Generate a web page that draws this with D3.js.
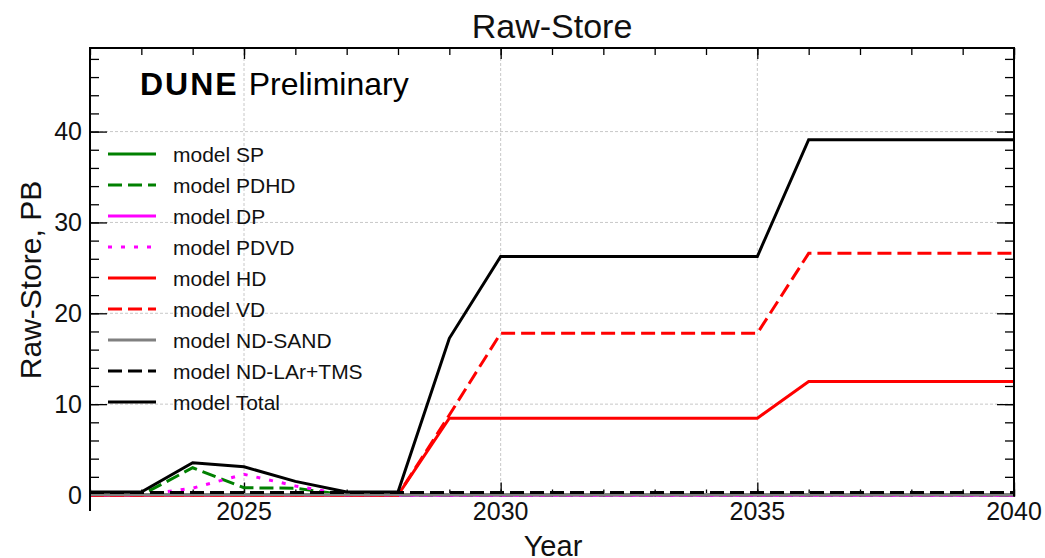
<!DOCTYPE html>
<html>
<head>
<meta charset="utf-8">
<script src="https://cdn.jsdelivr.net/npm/d3@7"></script>
<style>
  body { margin: 0; background: #fff; }
  svg { font-family: "Liberation Sans", Arial, sans-serif; }
</style>
</head>
<body>
<div id="chart"></div>
<script>
// data
var years = [2022,2023,2024,2025,2026,2027,2028,2029,2030,2031,2032,2033,2034,2035,2036,2037,2038,2039,2040];
var sp     = [0,0,0,0,0,0,0,0,0,0,0,0,0,0,0,0,0,0,0];
var pdhd   = [0,0,3.0,0.8,0.74,0,0,0,0,0,0,0,0,0,0,0,0,0,0];
var dp     = [0,0,0,0,0,0,0,0,0,0,0,0,0,0,0,0,0,0,0];
var pdvd   = [0,0,0.75,2.28,1.0,0,0,0,0,0,0,0,0,0,0,0,0,0,0];
var hd     = [0,0,0,0,0,0,0,8.45,8.45,8.45,8.45,8.45,8.45,8.45,12.5,12.5,12.5,12.5,12.5];
var vd     = [0,0,0,0,0,0,0,8.8,17.8,17.8,17.8,17.8,17.8,17.8,26.6,26.6,26.6,26.6,26.6];
var ndSand = [0.05,0.05,0.05,0.05,0.05,0.05,0.05,0.05,0.05,0.05,0.05,0.05,0.05,0.05,0.05,0.05,0.05,0.05,0.05];
var ndLar  = [0.28,0.28,0.28,0.28,0.28,0.28,0.28,0.28,0.28,0.28,0.28,0.28,0.28,0.28,0.28,0.28,0.28,0.28,0.28];
var total  = [0.33,0.33,3.55,3.1,1.5,0.33,0.33,17.25,26.25,26.25,26.25,26.25,26.25,26.25,39.1,39.1,39.1,39.1,39.1];

var seriesNames = ["model SP","model PDHD","model DP","model PDVD","model HD","model VD","model ND-SAND","model ND-LAr+TMS","model Total"];
var seriesValues = [sp, pdhd, dp, pdvd, hd, vd, ndSand, ndLar, total];
var seriesColors = ["#008000","#008000","#ff00ff","#ff00ff","#ff0000","#ff0000","#808080","#000000","#000000"];
var seriesDash = [null,"14,6",null,"4,9",null,"14,6",null,"14,6",null];

var xMajor = [2025, 2030, 2035, 2040];
var yMajor = [0, 10, 20, 30, 40];

// set the dimensions of the frame
var W = 1045, H = 558;
var pLeft = 90, pRight = 1014, pTop = 48, pBottom = 496.5;

var svg = d3.select("#chart").append("svg")
    .attr("width", W)
    .attr("height", H);

var x = d3.scaleLinear().domain([2022, 2040]).range([pLeft, pRight]);
var y = d3.scaleLinear().domain([-0.165, 49.2]).range([pBottom, pTop]);

// grid
svg.append("g").selectAll("line")
  .data(xMajor.filter(function(d) { return d < 2040; }))
  .enter().append("line")
    .attr("x1", function(d) { return x(d); })
    .attr("x2", function(d) { return x(d); })
    .attr("y1", pTop).attr("y2", pBottom)
    .attr("stroke", "#c8c8c8").attr("stroke-width", 1)
    .attr("stroke-dasharray", "3,2");
svg.append("g").selectAll("line")
  .data(yMajor.filter(function(d) { return d > 0; }))
  .enter().append("line")
    .attr("x1", pLeft).attr("x2", pRight)
    .attr("y1", function(d) { return y(d); })
    .attr("y2", function(d) { return y(d); })
    .attr("stroke", "#c8c8c8").attr("stroke-width", 1)
    .attr("stroke-dasharray", "3,2");

// axes (ticks inward)
var xMinor = d3.range(2022, 2041);
var yMinor = d3.range(0, 49, 2);

function tickAxis(axis, tr) {
  var g = svg.append("g").attr("transform", tr).call(axis);
  g.select(".domain").remove();
  g.selectAll("line").attr("stroke", "#000").attr("stroke-width", 1.3);
  g.selectAll("text").remove();
  return g;
}
tickAxis(d3.axisBottom(x).tickValues(xMinor).tickSize(-7), "translate(0," + pBottom + ")");
tickAxis(d3.axisBottom(x).tickValues(xMajor).tickSize(-14), "translate(0," + pBottom + ")");
tickAxis(d3.axisTop(x).tickValues(xMinor).tickSize(-7), "translate(0," + pTop + ")");
tickAxis(d3.axisTop(x).tickValues(xMajor).tickSize(-11), "translate(0," + pTop + ")");
tickAxis(d3.axisLeft(y).tickValues(yMinor).tickSize(-9), "translate(" + pLeft + ",0)");
tickAxis(d3.axisLeft(y).tickValues(yMajor).tickSize(-17), "translate(" + pLeft + ",0)");
tickAxis(d3.axisRight(y).tickValues(yMinor).tickSize(-9), "translate(" + pRight + ",0)");
tickAxis(d3.axisRight(y).tickValues(yMajor).tickSize(-17), "translate(" + pRight + ",0)");

// tick labels
svg.append("g").selectAll("text")
  .data(xMajor)
  .enter().append("text")
    .attr("x", function(d) { return x(d); })
    .attr("y", 520)
    .attr("text-anchor", "middle")
    .style("font-size", "25px")
    .attr("fill", "#111")
    .text(function(d) { return d; });
svg.append("g").selectAll("text")
  .data(yMajor)
  .enter().append("text")
    .attr("x", 82)
    .attr("y", function(d) { return y(d) + 8.5; })
    .attr("text-anchor", "end")
    .style("font-size", "25px")
    .attr("fill", "#111")
    .text(function(d) { return d; });

// lines
var line = d3.line()
  .x(function(d, i) { return x(years[i]); })
  .y(function(d) { return y(d); });

svg.append("g").selectAll("path")
  .data(seriesValues)
  .enter().append("path")
    .attr("d", function(d) { return line(d); })
    .attr("fill", "none")
    .attr("stroke", function(d, i) { return seriesColors[i]; })
    .attr("stroke-width", 3)
    .attr("stroke-dasharray", function(d, i) { return seriesDash[i]; })
    .attr("stroke-linejoin", "miter");

// frame
svg.append("path")
  .attr("d", "M" + pLeft + "," + 511 + "V" + pTop + "H" + pRight + "V" + pBottom)
  .attr("fill", "none")
  .attr("stroke", "#000")
  .attr("stroke-width", 2);

// legend
var leg = svg.append("g").selectAll("g")
  .data(seriesNames)
  .enter().append("g")
    .attr("transform", function(d, i) { return "translate(0," + (154 + i * 31) + ")"; });
leg.append("line")
  .attr("x1", 108).attr("x2", 156)
  .attr("y1", 0).attr("y2", 0)
  .attr("stroke", function(d, i) { return seriesColors[i]; })
  .attr("stroke-width", 3)
  .attr("stroke-dasharray", function(d, i) { return seriesDash[i]; });
leg.append("text")
  .attr("x", 173)
  .attr("y", 7.5)
  .style("font-size", "21px")
  .attr("fill", "#111")
  .text(function(d) { return d; });

// titles
svg.append("text")
  .attr("x", (pLeft + pRight) / 2)
  .attr("y", 38)
  .attr("text-anchor", "middle")
  .style("font-size", "34px")
  .attr("fill", "#111")
  .text("Raw-Store");
svg.append("text")
  .attr("x", 553)
  .attr("y", 556)
  .attr("text-anchor", "middle")
  .style("font-size", "29px")
  .attr("fill", "#111")
  .text("Year");
svg.append("text")
  .attr("transform", "translate(41,280)rotate(-90)")
  .attr("text-anchor", "middle")
  .style("font-size", "30px")
  .attr("fill", "#111")
  .text("Raw-Store, PB");

var dune = svg.append("text")
  .attr("x", 140)
  .attr("y", 95)
  .style("font-size", "32px")
  .attr("fill", "#000");
dune.append("tspan")
  .style("font-weight", "bold")
  .style("letter-spacing", "2px")
  .text("DUNE");
dune.append("tspan")
  .attr("dx", 10)
  .text("Preliminary");
</script>
</body>
</html>
